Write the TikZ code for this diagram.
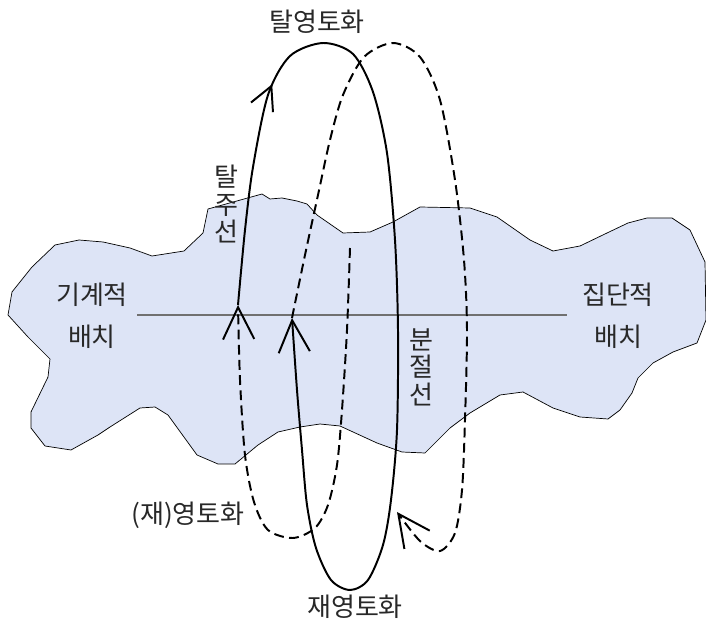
\documentclass[tikz,border=0pt]{standalone}
\usepackage{fontspec}
\setmainfont{Noto Sans CJK KR}
\usetikzlibrary{arrows.meta,decorations.markings}
\definecolor{blobfill}{RGB}{221,228,246}
\definecolor{cutgray}{RGB}{112,112,112}
\definecolor{textgray}{RGB}{40,40,40}
\begin{document}
\begin{tikzpicture}[x=0.025cm,y=-0.025cm]
      \useasboundingbox (0,0) rectangle (706,623);

      \tikzstyle{blob} = [
        draw=black,
        line width=0.5pt,
        fill=blobfill,
        line join=round
      ]
      \tikzstyle{curve} = [line width=1.4pt, draw=black]
      \tikzstyle{dashcurve} = [curve, dash pattern=on 7pt off 3.8pt]
      \tikzstyle{arrow} = [-{Straight Barb[length=0.8cm,width=0.78cm]}]
      \tikzstyle{txt} = [draw=none, inner sep=0pt, text=textgray, font=\fontsize{18.5}{30}\selectfont, align=center]
      \tikzstyle{vtxt} = [txt, font=\fontsize{18.5}{19.6}\selectfont]

      % territory
      \draw[blob] (262,194) -- (270,199) -- (282,198) -- (297,201) -- (307,204) -- (317,215)
        -- (343,233) -- (370,232) -- (393,222) -- (420,207) -- (470,208) -- (497,217)
        -- (530,240) -- (553,251) -- (580,246) -- (607,233) -- (628,223) -- (647,218)
        -- (672,218) -- (690,230) -- (705,262) -- (706,320) -- (697,343) -- (673,352)
        -- (653,363) -- (638,378) -- (632,393) -- (620,410) -- (608,419) -- (580,417)
        -- (553,408) -- (523,392) -- (500,395) -- (470,413) -- (450,428) -- (425,453)
        -- (402,452) -- (377,443) -- (340,426) -- (320,424) -- (300,427) -- (278,432)
        -- (258,445) -- (235,464) -- (218,464) -- (197,455) -- (168,415) -- (155,407)
        -- (140,408) -- (110,427) -- (98,435) -- (71,450) -- (45,446) -- (31,428)
        -- (31,412) -- (48,377) -- (50,359) -- (28,337) -- (8,315) -- (12,292)
        -- (32,267) -- (55,245) -- (79,240) -- (103,242) -- (130,248) -- (152,256)
        -- (184,251) -- (203,233) -- (208,209) -- cycle;

      % cut line
      \coordinate (cutWest) at (137,315);
      \coordinate (cutEast) at (567,315);
      \draw[line width=1.2pt, draw=cutgray] (cutWest) -- (cutEast);

      % (re)territorialisation, dashed
      \draw[dashcurve,arrow] plot[smooth] coordinates {(350,248) (347,330) (342,410) (337,465)
        (328,505) (315,528) (293,538) (268,530) (254,502) (245,455) (240,380) (238,305)};

      % escape loop, solid
      \draw[curve,arrow,
        postaction={decorate,decoration={markings,
          mark=at position 5.6cm with {\arrow{Straight Barb[length=0.58cm,width=0.6cm]}}}}]
        plot[smooth] coordinates {(238,305) (245,230) (253,167) (268,95) (290,56) (323,43)
        (353,54) (373,92) (387,153) (395,240) (398,330) (397,430) (391,500) (383,545)
        (368,580) (350,590) (331,580) (316,548) (307,505) (302,450) (297,390) (292,318)};

      % second loop, dashed
      \draw[dashcurve,arrow] plot[smooth] coordinates {(292,318) (305,255) (318,195) (330,140)
        (343,95) (364,57) (393,43) (420,57) (440,100) (455,180) (464,260) (467,330)
        (465,420) (462,490) (455,533) (440,551) (420,541) (397,512)};

      % labels
      \node[txt] (deterr) at (317,22) {탈영토화};
      \node[vtxt] (flight) at (226,204) {탈\\주\\선};
      \node[txt] (machinic) at (92,316) {기계적\\배치};
      \node[txt] (collective) at (618,316) {집단적\\배치};
      \node[vtxt] (segment) at (421,367) {분\\절\\선};
      \node[txt] (reterrA) at (188,515) {(재)영토화};
      \node[txt] (reterrB) at (355,607) {재영토화};
\end{tikzpicture}
\end{document}
